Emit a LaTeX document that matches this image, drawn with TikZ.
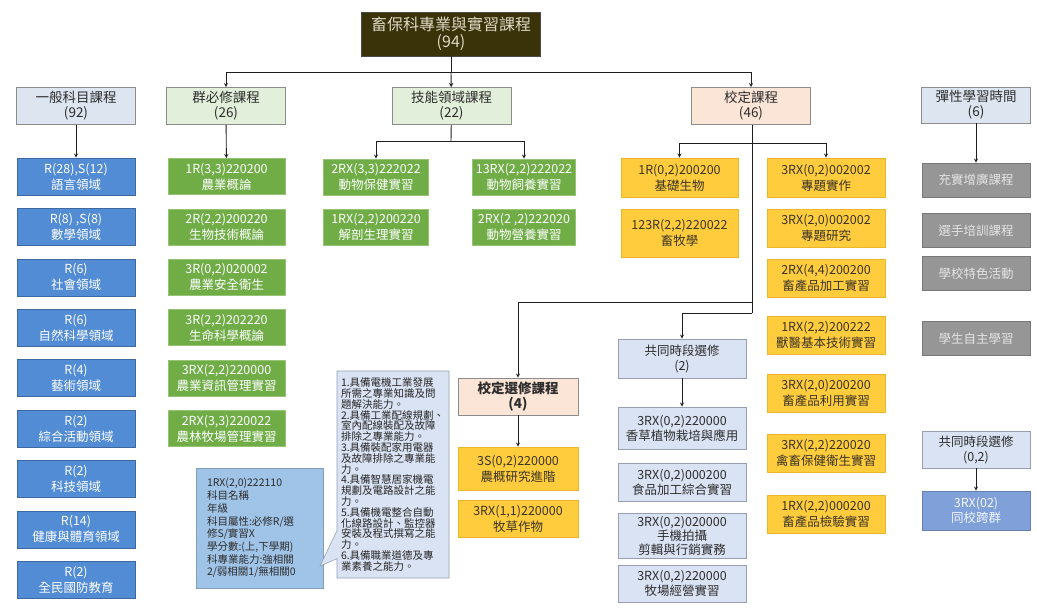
\documentclass[tikz,border=0pt]{standalone}
\usepackage{fontspec}
\setmainfont{Noto Sans CJK TC}
\usepackage{tikz}
\usetikzlibrary{shapes.callouts, arrows}

\definecolor{titleFill}{RGB}{58,50,8}
\definecolor{titleText}{RGB}{222,216,198}
\definecolor{headBlue}{RGB}{221,229,241}
\definecolor{headGreen}{RGB}{226,239,218}
\definecolor{headPeach}{RGB}{251,229,214}
\definecolor{headLine}{RGB}{140,140,140}
\definecolor{headText}{RGB}{45,45,45}
\definecolor{genFill}{RGB}{82,140,212}
\definecolor{genLine}{RGB}{62,104,160}
\definecolor{grpFill}{RGB}{112,173,71}
\definecolor{grpLine}{RGB}{150,196,118}
\definecolor{certFill}{RGB}{255,204,62}
\definecolor{certLine}{RGB}{236,182,40}
\definecolor{certText}{RGB}{58,52,36}
\definecolor{flexFill}{RGB}{150,150,150}
\definecolor{flexText}{RGB}{228,228,228}
\definecolor{commFill}{RGB}{218,227,243}
\definecolor{commLine}{RGB}{150,160,176}
\definecolor{crossFill}{RGB}{128,160,218}
\definecolor{legendFill}{RGB}{160,196,232}
\definecolor{linkColor}{RGB}{30,30,30}

\tikzstyle{topic} = [rectangle, minimum width=179pt, minimum height=44pt,
align=center, draw=black!70, fill=titleFill, text=titleText,
font=\fontsize{16}{17}\selectfont]
\tikzstyle{head} = [rectangle, minimum width=119pt, minimum height=37pt,
align=center, draw=headLine, line width=0.6pt, text=headText, inner sep=1pt,
font=\fontsize{13.5}{15}\selectfont]
\tikzstyle{genbox} = [rectangle, minimum width=118pt, minimum height=37pt,
align=center, draw=genLine, line width=0.6pt, fill=genFill, text=white,
inner sep=1pt, font=\fontsize{12.5}{16}\selectfont]
\tikzstyle{grpbox} = [rectangle, minimum width=117pt, minimum height=36pt,
align=center, draw=grpLine, line width=0.6pt, fill=grpFill, text=white,
inner sep=1pt, font=\fontsize{12.5}{16}\selectfont]
\tikzstyle{certbox} = [rectangle, minimum width=118pt, minimum height=38pt,
align=center, draw=certLine, line width=0.6pt, fill=certFill, text=certText,
inner sep=1pt, font=\fontsize{12.5}{16}\selectfont]
\tikzstyle{flexbox} = [rectangle, minimum width=108pt, minimum height=34pt,
align=center, draw=flexFill!80!black, line width=0.6pt, fill=flexFill,
text=flexText, inner sep=1pt, font=\fontsize{12.5}{16}\selectfont]
\tikzstyle{commbox} = [rectangle, minimum width=128pt, minimum height=38pt,
align=center, draw=commLine, line width=0.6pt, fill=commFill, text=headText,
inner sep=1pt, font=\fontsize{12.5}{15}\selectfont]
\tikzstyle{legendbox} = [rectangle, minimum width=127pt, minimum height=120pt,
text width=105pt, align=left, draw=legendFill!80!black, line width=0.5pt,
fill=legendFill, text=headText, font=\fontsize{10.5}{12.7}\selectfont]
\tikzstyle{abilitybox} = [rectangle callout, minimum width=112pt,
minimum height=207pt, text width=104pt, align=left, draw=commLine,
line width=0.6pt, fill=commFill, text=black!85, callout pointer width=28pt,
font=\fontsize{10.5}{10.8}\selectfont]
\tikzstyle{arrow} = [linkColor, line width=0.9pt, ->, >=stealth]
\tikzstyle{link} = [linkColor, line width=0.9pt]

\begin{document}
\begin{tikzpicture}[x=1pt, y=-1pt, node distance=50.4pt]
\useasboundingbox[fill=white] (0,0) rectangle (1037,608);

\node(topic)[topic] at (451,34) {畜保科專業與實習課程\\(94)};

% level one
\node(general)[head, fill=headBlue] at (76,106) {一般科目課程\\(92)};
\node(group)[head, fill=headGreen] at (226,106) {群必修課程\\(26)};
\node(skill)[head, fill=headGreen] at (451.5,106) {技能領域課程\\(22)};
\node(school)[head, fill=headPeach] at (751,106) {校定課程\\(46)};
\node(flex)[head, fill=headBlue, minimum width=109pt, minimum height=36pt] at (976,105) {彈性學習時間\\(6)};

% general subjects
\node(gen1)[genbox] at (76,176.5) {R(28),S(12)\\語言領域};
\node(gen2)[genbox, below of=gen1] {R(8) ,S(8)\\數學領域};
\node(gen3)[genbox, below of=gen2] {R(6)\\社會領域};
\node(gen4)[genbox, below of=gen3] {R(6)\\自然科學領域};
\node(gen5)[genbox, below of=gen4] {R(4)\\藝術領域};
\node(gen6)[genbox, below of=gen5] {R(2)\\綜合活動領域};
\node(gen7)[genbox, below of=gen6] {R(2)\\科技領域};
\node(gen8)[genbox, below of=gen7] {R(14)\\健康與體育領域};
\node(gen9)[genbox, below of=gen8] {R(2)\\全民國防教育};

% group required
\node(grp1)[grpbox] at (226.5,176.5) {1R(3,3)220200\\農業概論};
\node(grp2)[grpbox, below of=grp1] {2R(2,2)200220\\生物技術概論};
\node(grp3)[grpbox, below of=grp2] {3R(0,2)020002\\農業安全衛生};
\node(grp4)[grpbox, below of=grp3] {3R(2,2)202220\\生命科學概論};
\node(grp5)[grpbox, below of=grp4] {3RX(2,2)220000\\農業資訊管理實習};
\node(grp6)[grpbox, below of=grp5] {2RX(3,3)220022\\農林牧場管理實習};

% skill domain
\node(skl1)[grpbox, minimum width=105pt] at (376,177) {2RX(3,3)222022\\動物保健實習};
\node(skl2)[grpbox, minimum width=103pt] at (524,177) {13RX(2,2)222022\\動物飼養實習};
\node(skl3)[grpbox, minimum width=105pt, below of=skl1] {1RX(2,2)200220\\解剖生理實習};
\node(skl4)[grpbox, minimum width=103pt, below of=skl2] {2RX(2 ,2)222020\\動物營養實習};

% school certified
\node(certL1)[certbox, minimum width=117pt, minimum height=39pt] at (679.5,177.5) {1R(0,2)200200\\基礎生物};
\node(certL2)[certbox, minimum width=117pt, minimum height=48pt] at (679.5,233) {123R(2,2)220022\\畜牧學};
\node(certR1)[certbox, minimum height=39pt] at (826,177.5) {3RX(0,2)002002\\專題實作};
\node(certR2)[certbox, below of=certR1] {3RX(2,0)002002\\專題研究};
\node(certR3)[certbox, below of=certR2] {2RX(4,4)200200\\畜產品加工實習};
\node(certR4)[certbox, below of=certR3, node distance=57pt] {1RX(2,2)200222\\獸醫基本技術實習};
\node(certR5)[certbox, below of=certR4, node distance=57.5pt] {3RX(2,0)200200\\畜產品利用實習};
\node(certR6)[certbox, below of=certR5, node distance=60.5pt] {3RX(2,2)220020\\禽畜保健衛生實習};
\node(certR7)[certbox, below of=certR6, node distance=61pt] {1RX(2,2)000200\\畜產品檢驗實習};

% school electives
\node(elect)[head, fill=headPeach, minimum width=120pt, font=\fontsize{13.5}{15}\selectfont\bfseries] at (518,396.5) {校定選修課程\\(4)};
\node(elect1)[certbox, minimum width=120pt, minimum height=43pt, below of=elect, node distance=72pt] {3S(0,2)220000\\農概研究進階};
\node(elect2)[certbox, minimum width=120pt, minimum height=37pt, below of=elect1, node distance=50pt] {3RX(1,1)220000\\牧草作物};

% common period electives
\node(common)[commbox, minimum height=39pt] at (682,358.5) {共同時段選修\\(2)};
\node(comm1)[commbox, minimum height=42pt, below of=common, node distance=69.5pt] {3RX(0,2)220000\\香草植物栽培與應用};
\node(comm2)[commbox, below of=comm1, node distance=54pt] {3RX(0,2)000200\\食品加工綜合實習};
\node(comm3)[commbox, minimum height=45pt, below of=comm2, node distance=53.5pt, font=\fontsize{12.5}{14}\selectfont] {3RX(0,2)020000\\手機拍攝\\剪輯與行銷實務};
\node(comm4)[commbox, minimum height=37pt, below of=comm3, node distance=48pt] {3RX(0,2)220000\\牧場經營實習};

% flexible learning
\node(flex1)[flexbox] at (976,180) {充實增廣課程};
\node(flex2)[flexbox, below of=flex1] {選手培訓課程};
\node(flex3)[flexbox, below of=flex2, node distance=43pt] {學校特色活動};
\node(flex4)[flexbox, below of=flex3, node distance=65pt] {學生自主學習};

\node(commSame)[commbox, minimum width=108pt, minimum height=37pt] at (976,449.5) {共同時段選修\\(0,2)};
\node(cross)[commbox, minimum width=108pt, minimum height=39pt, fill=crossFill, draw=crossFill!80!black, text=white!90!crossFill, below of=commSame, node distance=61pt] {3RX(02)\\同校跨群};

% legend and abilities
\node(legend)[legendbox] at (259.5,528) {1RX(2,0)222110\\科目名稱\\年級\\科目屬性:必修R/選\\修S/實習X\\學分數:(上,下學期)\\科專業能力:強相關\\2/弱相關1/無相關0};
\node(ability)[abilitybox, callout absolute pointer={(320,566)}] at (393,474.5) {1.具備電機工業發展\\所需之專業知識及問\\題解決能力。\\2.具備工業配線規劃、\\室內配線裝配及故障\\排除之專業能力。\\3.具備裝配家用電器\\及故障排除之專業能\\力。\\4.具備智慧居家機電\\規劃及電路設計之能\\力。\\5.具備機電整合自動\\化線路設計、監控器\\安裝及程式撰寫之能\\力。\\6.具備職業道德及專\\業素養之能力。};

% connectors
\coordinate (trunk) at (451,72);
\coordinate (sklJoin) at (451,141);
\coordinate (certJoin) at (752,143);
\coordinate (electTurn) at (752,302);
\coordinate (commTurn) at (752,313);

\draw[link](topic) -- (trunk);
\draw[arrow](trunk) -- (skill);
\draw[arrow](trunk) -| (group);
\draw[arrow](trunk) -| (school);
\draw[arrow](general) -- (gen1);
\draw[arrow](group) -- (grp1);
\draw[link](skill) -- (sklJoin);
\draw[arrow](sklJoin) -| (skl1);
\draw[arrow](sklJoin) -| (skl2);
\draw[link](school.south -| certJoin) -- (commTurn);
\draw[arrow](certJoin) -| (certL1);
\draw[arrow](certJoin) -| (certR1);
\draw[arrow](electTurn) -| (elect);
\draw[arrow](commTurn) -| (common);
\draw[arrow](elect) -- (elect1);
\draw[arrow](common) -- (comm1);
\draw[arrow](flex) -- (flex1);
\draw[arrow](commSame) -- (cross);

\end{tikzpicture}
\end{document}
